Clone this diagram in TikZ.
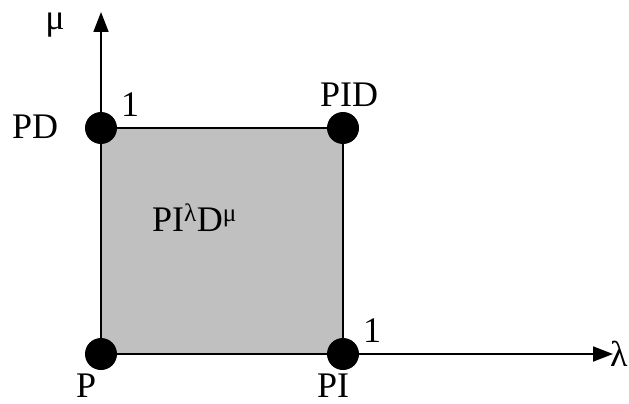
\documentclass[tikz,border=0pt]{standalone}
\usepackage{fontspec}
\setmainfont{Liberation Serif}
\usetikzlibrary{arrows.meta}
\begin{document}
\begin{tikzpicture}[x=1pt,y=-1pt,
  lbl/.style={inner sep=0pt,anchor=base west,font=\fontsize{36}{42}\selectfont},
  dot/.style={circle,fill=black,minimum size=32pt,inner sep=0pt},
  axis/.style={line width=1.8pt,-{Triangle[length=20pt,width=15pt]}}]
\useasboundingbox (0,0) rectangle (629,404);
\coordinate (p) at (101,354);
\coordinate (pi) at (343,354);
\coordinate (pd) at (101,128);
\coordinate (pid) at (343,128);
\coordinate (ytip) at (101,12);
\coordinate (xtip) at (613,354);
\draw[fill={rgb,255:red,192;green,192;blue,192},line width=1.8pt] (p) rectangle (pid);
\draw[axis] (p) -- (ytip);
\draw[axis] (pi) -- (xtip);
\node[dot] (P) at (p) {};
\node[dot] (PI) at (pi) {};
\node[dot] (PD) at (pd) {};
\node[dot] (PID) at (pid) {};
\node[inner sep=0pt,anchor=base,font=\fontsize{36}{42}\selectfont] (mu) at (55,30) {μ};
\node[inner sep=0pt,anchor=base west,font=\fontsize{36}{42}\selectfont] (la) at (610,366) {λ};
\node[lbl] (o1) at (121,116) {1};
\node[lbl] (o2) at (363,342) {1};
\node[lbl] (tPD) at (12,138) {PD};
\node[lbl] (tPID) at (320,106) {PID};
\node[lbl] (tP) at (76,397) {P};
\node[lbl] (tPI) at (317,397) {PI};
\node[lbl] (mid) at (152,231) {PI\textsuperscript{λ}D\textsuperscript{μ}};
\end{tikzpicture}
\end{document}
